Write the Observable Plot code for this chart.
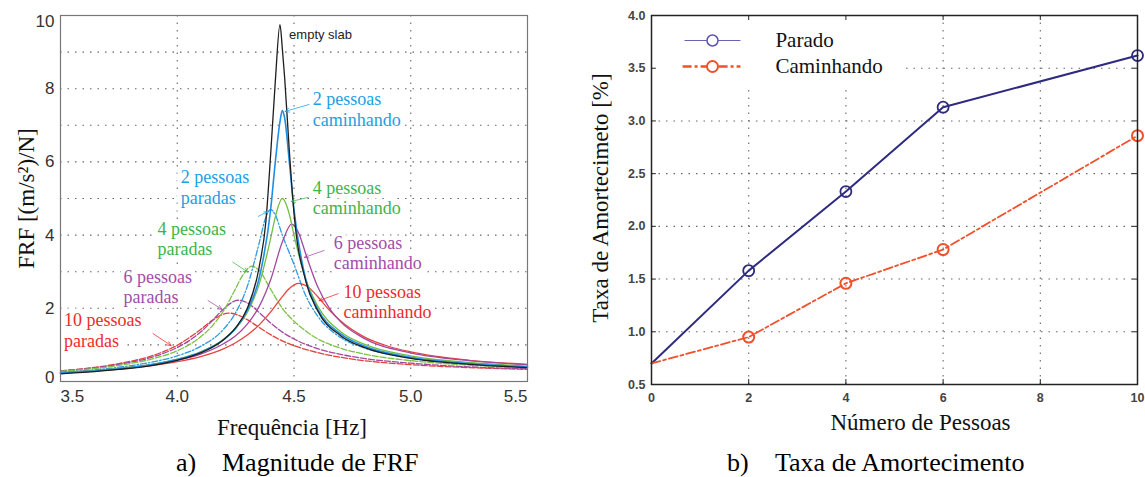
<!DOCTYPE html>
<html>
<head>
<meta charset="utf-8">
<script src="https://cdn.jsdelivr.net/npm/d3@7"></script>
<script src="https://cdn.jsdelivr.net/npm/@observablehq/plot@0.6"></script>
<style>
  html, body { margin: 0; padding: 0; background: #fff; }
  #page { position: relative; width: 1145px; height: 477px; overflow: hidden; background: #fff; }
  #frf { position: absolute; left: 0; top: 0; }
  #damp { position: absolute; left: 570px; top: 0; }
  .cap { position: absolute; font-family: "Liberation Serif", "Times New Roman", serif; font-size: 26px; line-height: 26px; color: #000; white-space: pre; }
</style>
</head>
<body>
<div id="page">
  <div id="frf"></div>
  <div id="damp"></div>
  <div class="cap" style="left:176px; top:450px;">a)</div>
  <div class="cap" style="left:222px; top:450px;">Magnitude de FRF</div>
  <div class="cap" style="left:727px; top:450px;">b)</div>
  <div class="cap" style="left:775px; top:450px;">Taxa de Amortecimento</div>
</div>
<script>
// ---------- Panel a: FRF magnitude [(m/s²)/N] against frequency [Hz] ----------
const emptySlabHz  = [3.5, 3.75, 3.9, 4.0, 4.1, 4.2, 4.25, 4.3, 4.35, 4.38, 4.4, 4.42, 4.44, 4.45, 4.46, 4.48, 4.5, 4.55, 4.6, 4.7, 4.8, 5.0, 5.25, 5.5];
const emptySlabFRF = [0.21, 0.33, 0.45, 0.58, 0.78, 1.15, 1.47, 2.0, 3.1, 4.4, 6.2, 8.2, 9.75, 9.1, 8.3, 6.3, 4.6, 2.75, 1.95, 1.25, 0.93, 0.63, 0.47, 0.38];

const walk2Hz  = [3.5, 3.75, 3.9, 4.0, 4.1, 4.2, 4.25, 4.3, 4.35, 4.4, 4.42, 4.44, 4.45, 4.46, 4.48, 4.5, 4.55, 4.6, 4.7, 4.8, 5.0, 5.25, 5.5];
const walk2FRF = [0.23, 0.35, 0.47, 0.60, 0.80, 1.15, 1.45, 1.95, 2.8, 4.7, 6.0, 7.1, 7.4, 7.2, 6.0, 4.7, 2.8, 2.0, 1.30, 0.97, 0.66, 0.49, 0.40];

const stand2Hz  = [3.5, 3.75, 3.9, 4.0, 4.1, 4.2, 4.25, 4.3, 4.35, 4.38, 4.4, 4.42, 4.45, 4.5, 4.55, 4.6, 4.7, 4.8, 5.0, 5.25, 5.5];
const stand2FRF = [0.25, 0.39, 0.54, 0.70, 0.96, 1.44, 1.88, 2.6, 3.76, 4.5, 4.7, 4.55, 4.0, 3.2, 2.35, 1.8, 1.2, 0.92, 0.64, 0.48, 0.39];

const walk4Hz  = [3.5, 3.75, 3.9, 4.0, 4.1, 4.2, 4.25, 4.3, 4.35, 4.4, 4.42, 4.45, 4.48, 4.5, 4.55, 4.6, 4.7, 4.8, 5.0, 5.25, 5.5];
const walk4FRF = [0.24, 0.36, 0.48, 0.61, 0.81, 1.16, 1.45, 1.89, 2.64, 3.91, 4.5, 5.0, 4.57, 4.0, 2.8, 2.08, 1.36, 1.02, 0.70, 0.52, 0.42];

const stand4Hz  = [3.5, 3.75, 3.9, 4.0, 4.1, 4.15, 4.2, 4.25, 4.28, 4.32, 4.35, 4.4, 4.45, 4.5, 4.55, 4.6, 4.7, 4.8, 5.0, 5.25, 5.5];
const stand4FRF = [0.28, 0.44, 0.63, 0.84, 1.22, 1.52, 1.95, 2.54, 2.9, 3.15, 3.04, 2.52, 2.0, 1.65, 1.38, 1.17, 0.91, 0.75, 0.57, 0.45, 0.38];

const walk6Hz  = [3.5, 3.75, 3.9, 4.0, 4.1, 4.2, 4.25, 4.3, 4.35, 4.4, 4.45, 4.49, 4.52, 4.55, 4.6, 4.65, 4.7, 4.8, 5.0, 5.25, 5.5];
const walk6FRF = [0.24, 0.35, 0.47, 0.58, 0.75, 1.04, 1.25, 1.57, 2.04, 2.78, 3.81, 4.3, 4.06, 3.49, 2.61, 2.02, 1.63, 1.18, 0.78, 0.57, 0.46];

const stand6Hz  = [3.5, 3.75, 3.9, 4.0, 4.05, 4.1, 4.15, 4.2, 4.26, 4.3, 4.35, 4.4, 4.45, 4.5, 4.6, 4.7, 4.8, 5.0, 5.25, 5.5];
const stand6FRF = [0.29, 0.47, 0.68, 0.93, 1.11, 1.35, 1.66, 1.99, 2.22, 2.15, 1.89, 1.6, 1.35, 1.16, 0.9, 0.74, 0.63, 0.50, 0.40, 0.35];

const walk10Hz  = [3.5, 3.75, 3.9, 4.0, 4.1, 4.2, 4.25, 4.3, 4.35, 4.4, 4.45, 4.48, 4.52, 4.56, 4.6, 4.65, 4.7, 4.8, 4.9, 5.0, 5.25, 5.5];
const walk10FRF = [0.23, 0.34, 0.44, 0.54, 0.68, 0.90, 1.06, 1.27, 1.54, 1.9, 2.32, 2.54, 2.68, 2.58, 2.33, 1.96, 1.65, 1.22, 0.97, 0.81, 0.58, 0.47];

const stand10Hz  = [3.5, 3.75, 3.9, 4.0, 4.05, 4.1, 4.15, 4.22, 4.3, 4.35, 4.4, 4.45, 4.5, 4.6, 4.7, 4.8, 5.0, 5.25, 5.5];
const stand10FRF = [0.29, 0.49, 0.72, 0.99, 1.19, 1.42, 1.67, 1.87, 1.69, 1.48, 1.28, 1.11, 0.98, 0.79, 0.66, 0.57, 0.46, 0.38, 0.33];

const hzTicks   = [3.5, 4.0, 4.5, 5.0, 5.5];
const frfTicks  = [0, 2, 4, 6, 8, 10];
const frfGridAt = [1, 2, 3, 4, 5, 6, 7, 8, 9];

// ---------- Panel b: damping ratio [%] against number of people ----------
const people          = [0, 2, 4, 6, 10];
const dampingStanding = [0.70, 1.58, 2.33, 3.13, 3.62];
const dampingWalking  = [0.70, 0.95, 1.46, 1.78, 2.86];
const peopleTicks  = [0, 2, 4, 6, 8, 10];
const dampingTicks = [0.5, 1.0, 1.5, 2.0, 2.5, 3.0, 3.5, 4.0];

// ---------- styling ----------
const SERIF = "Liberation Serif, Times New Roman, serif";
const SANS = "Liberation Sans, Arial, sans-serif";
const gridStyle = {stroke: "#555", strokeOpacity: 0.9, strokeWidth: 1.1, strokeDasharray: "1.5,6"};

const BLUE = "#1aa0e6", GREEN = "#3cb44a", PURPLE = "#a24ea6", RED = "#ee2b2b";

const frfSeries = [
  {hz: stand10Hz, frf: stand10FRF, stroke: "#e4403b", dash: "6,2"},
  {hz: stand6Hz,  frf: stand6FRF,  stroke: "#a4479f", dash: "6,2"},
  {hz: stand4Hz,  frf: stand4FRF,  stroke: "#7cc243", dash: "6,2"},
  {hz: stand2Hz,  frf: stand2FRF,  stroke: "#2b9be3", dash: "6,2,1.5,2"},
  {hz: walk10Hz,  frf: walk10FRF,  stroke: "#e8433d"},
  {hz: walk6Hz,   frf: walk6FRF,   stroke: "#a4479f"},
  {hz: walk4Hz,   frf: walk4FRF,   stroke: "#72bf44"},
  {hz: walk2Hz,   frf: walk2FRF,   stroke: "#1f8fe3", width: 1.6},
  {hz: emptySlabHz, frf: emptySlabFRF, stroke: "#1d1d1d"}
];

// callout text anchors and arrow ends, in axis units
const callouts = [
  {label: "2 pessoas\ncaminhando",  color: BLUE,   x: 4.58, y: 7.45, ax: 4.565, ay: 7.57, bx: 4.462, by: 7.38},
  {label: "2 pessoas\nparadas",     color: BLUE,   x: 4.015, y: 5.31, ax: 4.347, ay: 4.51, bx: 4.385, by: 4.64},
  {label: "4 pessoas\ncaminhando",  color: GREEN,  x: 4.58, y: 5.03, ax: 4.561, ay: 5.03, bx: 4.488, by: 4.92},
  {label: "4 pessoas\nparadas",     color: GREEN,  x: 3.915, y: 3.91, ax: 4.238, ay: 3.26, bx: 4.302, by: 2.99},
  {label: "6 pessoas\ncaminhando",  color: PURPLE, x: 4.67, y: 3.52, ax: 4.629, ay: 3.58, bx: 4.544, by: 3.39},
  {label: "6 pessoas\nparadas",     color: PURPLE, x: 3.77, y: 2.60, ax: 4.132, ay: 2.21, bx: 4.192, by: 1.97},
  {label: "10 pessoas\ncaminhando", color: RED,    x: 4.712, y: 2.19, ax: 4.689, ay: 2.40, bx: 4.608, by: 2.21},
  {label: "10 pessoas\nparadas",    color: RED,    x: 3.515, y: 1.41, ax: 3.896, ay: 1.31, bx: 3.974, by: 0.98}
];
const slabNote = [{label: "empty slab", x: 4.479, y: 9.48}];

const tickFont = {fill: "#333", fontFamily: SANS, fontSize: 17};

const frfPlot = Plot.plot({
  width: 545, height: 445,
  marginLeft: 60, marginRight: 18, marginTop: 15, marginBottom: 64,
  x: {domain: [3.5, 5.5], axis: null},
  y: {domain: [0, 10], axis: null},
  color: {type: "identity"},
  style: {fontFamily: SANS, fontSize: "12px", background: "white", overflow: "visible"},
  marks: [
    Plot.gridX(hzTicks.slice(1, -1), gridStyle),
    Plot.gridY(frfGridAt, gridStyle),
    Plot.text(callouts, {x: "x", y: "y", text: "label", fill: "color", stroke: "white", strokeWidth: 9,
      paintOrder: "stroke", strokeLinejoin: "round", textAnchor: "start", lineAnchor: "middle",
      lineHeight: 1.14, fontFamily: SERIF, fontSize: 18}),
    Plot.text(slabNote, {x: "x", y: "y", text: "label", fill: "#222", stroke: "white", strokeWidth: 6,
      paintOrder: "stroke", textAnchor: "start", fontFamily: SANS, fontSize: 13}),
    ...frfSeries.map(s => Plot.line(d3.zip(s.hz, s.frf), {
      x: d => d[0], y: d => d[1], stroke: s.stroke, strokeWidth: s.width ?? 1.3,
      strokeDasharray: s.dash, curve: "monotone-x"
    })),
    Plot.arrow(callouts, {x1: "ax", y1: "ay", x2: "bx", y2: "by", stroke: "color", strokeOpacity: 0.75,
      strokeWidth: 1, headLength: 7, headAngle: 50}),
    Plot.frame({stroke: "#777", strokeWidth: 1.2}),
    // tick labels
    Plot.text(frfTicks.slice(1, -1), {y: d => d, frameAnchor: "left", dx: -6, textAnchor: "end",
      lineAnchor: "middle", text: d => String(d), ...tickFont}),
    Plot.text(frfTicks.slice(-1), {y: d => d, frameAnchor: "left", dx: -6, dy: 6, textAnchor: "end",
      lineAnchor: "middle", text: d => String(d), ...tickFont}),
    Plot.text(frfTicks.slice(0, 1), {y: d => d, frameAnchor: "left", dx: -6, dy: -4, textAnchor: "end",
      lineAnchor: "middle", text: d => String(d), ...tickFont}),
    Plot.text(hzTicks.slice(1, -1), {x: d => d, frameAnchor: "bottom", dy: 15, lineAnchor: "middle",
      text: d => d.toFixed(1), ...tickFont}),
    Plot.text(hzTicks.slice(0, 1), {x: d => d, frameAnchor: "bottom", dy: 15, lineAnchor: "middle",
      textAnchor: "start", text: d => d.toFixed(1), ...tickFont}),
    Plot.text(hzTicks.slice(-1), {x: d => d, frameAnchor: "bottom", dy: 15, lineAnchor: "middle",
      textAnchor: "end", text: d => d.toFixed(1), ...tickFont}),
    // axis titles
    Plot.text(["Frequência [Hz]"], {frameAnchor: "bottom", dy: 46, dx: -2, lineAnchor: "middle",
      textAnchor: "middle", fill: "#111", fontFamily: SERIF, fontSize: 23}),
    Plot.text(["FRF [(m/s²)/N]"], {frameAnchor: "left", dx: -34, rotate: -90, lineAnchor: "middle",
      textAnchor: "middle", fill: "#111", fontFamily: SERIF, fontSize: 23})
  ]
});
document.getElementById("frf").append(frfPlot);

// ---------- Panel b ----------
const standingRows = people.map((n, i) => ({n, v: dampingStanding[i]}));
const walkingRows  = people.map((n, i) => ({n, v: dampingWalking[i]}));
const NAVY = "#2e2a80", ORANGE = "#f0502a";
const walkDash = "9,3,3,3";

// legend layout, in axis units
const legendBox = {x1: 0, x2: 5.2, y1: 3.3, y2: 4.0};
const legendRows = [
  {label: "Parado",     x1: 0.68, x2: 1.83, xm: 1.255, xt: 2.55, y: 3.763},
  {label: "Caminhando", x1: 0.64, x2: 1.83, xm: 1.255, xt: 2.55, y: 3.516}
];
const smallTickFont = {fill: "#444", fontFamily: SANS, fontSize: 12.5, fontWeight: "bold"};
// inward tick length, in axis units (about 5 px)
const tickLenX = 0.1, tickLenY = 0.047;

const dampPlot = Plot.plot({
  width: 575, height: 445,
  marginLeft: 81, marginRight: 8, marginTop: 15, marginBottom: 61,
  x: {domain: [0, 10], axis: null},
  y: {domain: [0.5, 4.0], axis: null},
  color: {type: "identity"},
  style: {fontFamily: SANS, fontSize: "12px", background: "white", overflow: "visible"},
  marks: [
    Plot.gridX(peopleTicks.slice(1, -1), gridStyle),
    Plot.gridY(dampingTicks.slice(1, -1), gridStyle),
    Plot.rect([legendBox], {x1: "x1", x2: "x2", y1: "y1", y2: "y2", fill: "white"}),
    Plot.line(standingRows, {x: "n", y: "v", stroke: NAVY, strokeWidth: 2}),
    Plot.line(walkingRows, {x: "n", y: "v", stroke: ORANGE, strokeWidth: 1.8, strokeDasharray: walkDash}),
    Plot.dot(standingRows.filter(d => d.n > 0), {x: "n", y: "v", r: 5.5, stroke: NAVY, strokeWidth: 1.8, fill: "none"}),
    Plot.dot(walkingRows.filter(d => d.n > 0), {x: "n", y: "v", r: 5.5, stroke: ORANGE, strokeWidth: 2, fill: "none"}),
    // inward ticks on all four sides
    Plot.ruleX(peopleTicks.slice(1, -1), {x: d => d, y1: 0.5, y2: 0.5 + tickLenY, stroke: "#222"}),
    Plot.ruleX(peopleTicks.slice(1, -1), {x: d => d, y1: 4.0, y2: 4.0 - tickLenY, stroke: "#222"}),
    Plot.ruleY(dampingTicks.slice(1, -1), {y: d => d, x1: 0, x2: tickLenX, stroke: "#222"}),
    Plot.ruleY(dampingTicks.slice(1, -1), {y: d => d, x1: 10, x2: 10 - tickLenX, stroke: "#222"}),
    Plot.frame({stroke: "#222", strokeWidth: 1.5}),
    // legend
    Plot.link(legendRows.slice(0, 1), {x1: "x1", x2: "x2", y1: "y", y2: "y", stroke: "#6a64b0", strokeWidth: 1.2}),
    Plot.dot(legendRows.slice(0, 1), {x: "xm", y: "y", r: 5.5, stroke: "#5a55a8", strokeWidth: 1.5, fill: "white"}),
    Plot.link(legendRows.slice(1), {x1: "x1", x2: "x2", y1: "y", y2: "y", stroke: ORANGE, strokeWidth: 2.4, strokeDasharray: walkDash}),
    Plot.dot(legendRows.slice(1), {x: "xm", y: "y", r: 5.5, stroke: ORANGE, strokeWidth: 2, fill: "white"}),
    Plot.text(legendRows, {x: "xt", y: "y", text: "label", textAnchor: "start", fill: "#111",
      fontFamily: SERIF, fontSize: 21}),
    // tick labels
    Plot.text(dampingTicks, {y: d => d, frameAnchor: "left", dx: -6, textAnchor: "end", lineAnchor: "middle",
      text: d => d.toFixed(1), ...smallTickFont}),
    Plot.text(peopleTicks, {x: d => d, frameAnchor: "bottom", dy: 13, lineAnchor: "middle",
      text: d => String(d), ...smallTickFont}),
    // axis titles
    Plot.text(["Número de Pessoas"], {frameAnchor: "bottom", dy: 38, dx: 26, lineAnchor: "middle",
      textAnchor: "middle", fill: "#111", fontFamily: SERIF, fontSize: 23}),
    Plot.text(["Taxa de Amortecimeto [%]"], {frameAnchor: "left", dx: -51, dy: -2, rotate: -90,
      lineAnchor: "middle", textAnchor: "middle", fill: "#111", fontFamily: SERIF, fontSize: 23})
  ]
});
document.getElementById("damp").append(dampPlot);
</script>
</body>
</html>
